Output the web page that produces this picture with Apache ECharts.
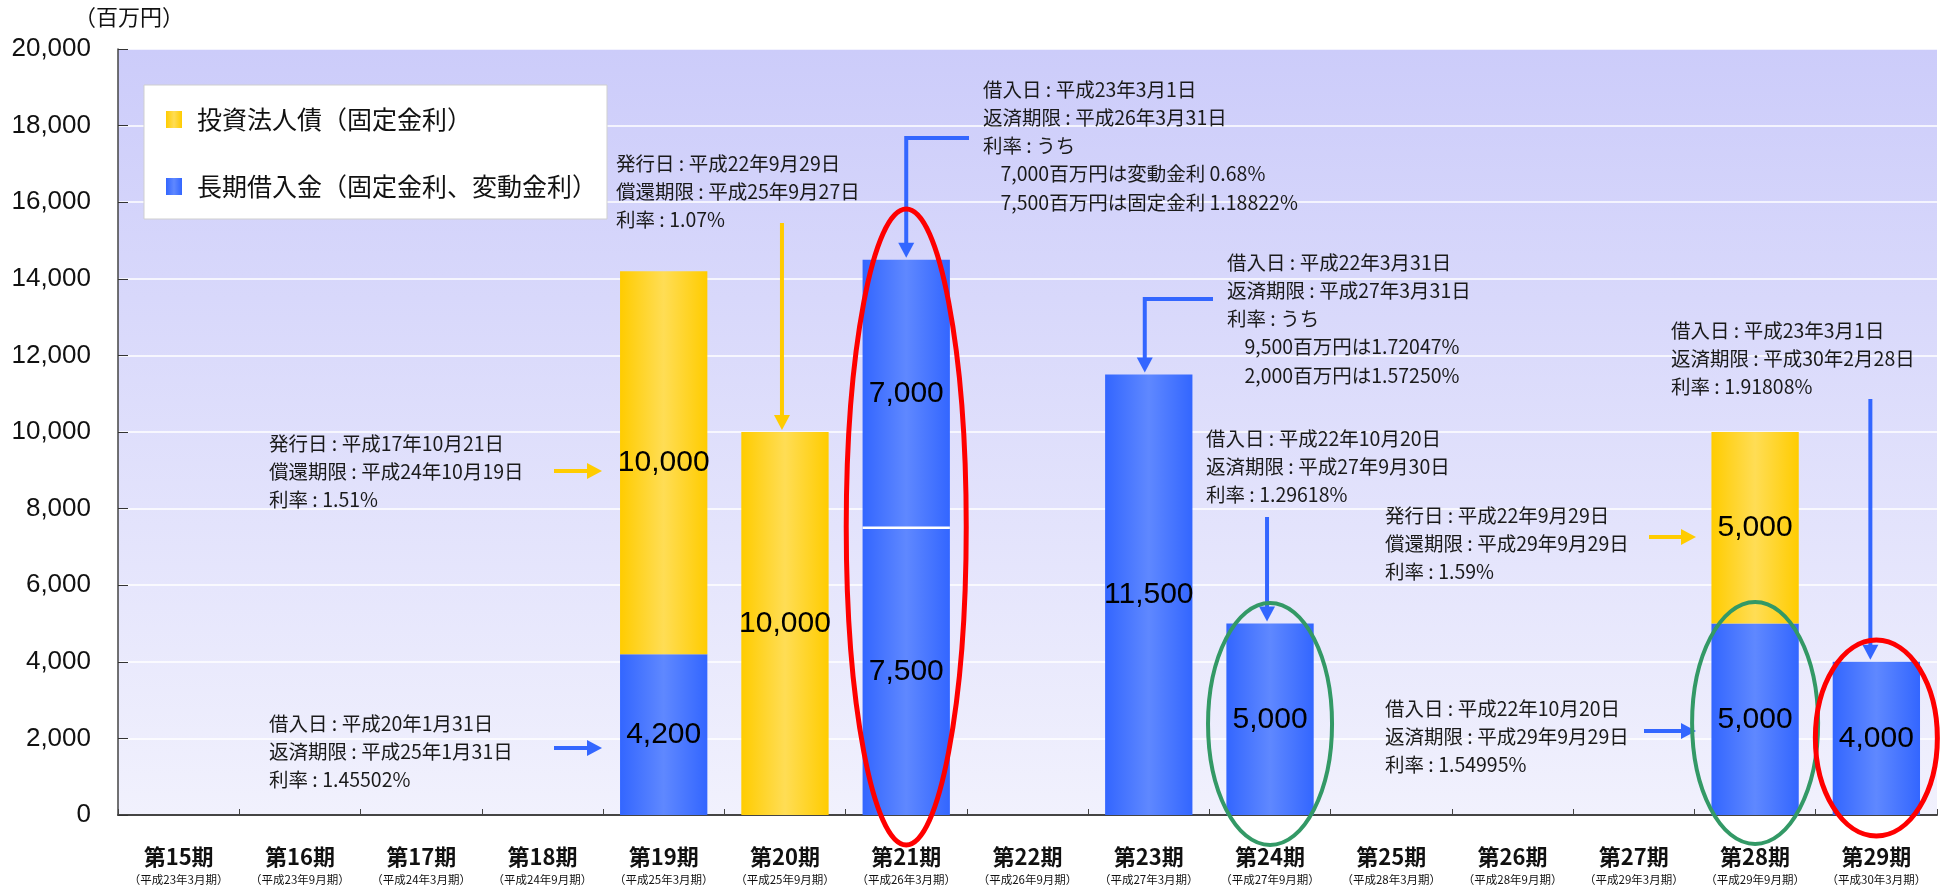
<!DOCTYPE html>
<html>
<head>
<meta charset="utf-8">
<script src="https://cdn.jsdelivr.net/npm/echarts@6/dist/echarts.min.js"></script>
<style>
  html, body { margin: 0; padding: 0; background: #ffffff; }
  #chart { width: 1944px; height: 894px; }
</style>
</head>
<body>
<div id="chart"></div>
<script>
// Fiscal periods and their closing months
const categories = ['第15期', '第16期', '第17期', '第18期', '第19期', '第20期', '第21期', '第22期',
  '第23期', '第24期', '第25期', '第26期', '第27期', '第28期', '第29期'];
const periods = ['平成23年3月期', '平成23年9月期', '平成24年3月期', '平成24年9月期', '平成25年3月期',
  '平成25年9月期', '平成26年3月期', '平成26年9月期', '平成27年3月期', '平成27年9月期',
  '平成28年3月期', '平成28年9月期', '平成29年3月期', '平成29年9月期', '平成30年3月期'];

// Maturing amounts (百万円)
const loanValues = [null, null, null, null, 4200, null, 7500, null, 11500, 5000, null, null, null, 5000, 4000];
const loanUpperValues = [null, null, null, null, null, null, 7000, null, null, null, null, null, null, null, null];
const bondValues = [null, null, null, null, 10000, 10000, null, null, null, null, null, null, null, 5000, null];

// Value axis
const yMin = 0;
const yMax = 20000;
const yStep = 2000;

const legendNames = ['投資法人債（固定金利）', '長期借入金（固定金利、変動金利）'];
const unitLabel = '（百万円）';

// Loan / bond term notes
const notes = [
  { x: 269, y: 430, lines: ['発行日 : 平成17年10月21日', '償還期限 : 平成24年10月19日', '利率 : 1.51%'] },
  { x: 269, y: 710, lines: ['借入日 : 平成20年1月31日', '返済期限 : 平成25年1月31日', '利率 : 1.45502%'] },
  { x: 616, y: 150, lines: ['発行日 : 平成22年9月29日', '償還期限 : 平成25年9月27日', '利率 : 1.07%'] },
  { x: 983, y: 76, lines: ['借入日 : 平成23年3月1日', '返済期限 : 平成26年3月31日', '利率 : うち',
      '    7,000百万円は変動金利 0.68%', '    7,500百万円は固定金利 1.18822%'] },
  { x: 1227, y: 249, lines: ['借入日 : 平成22年3月31日', '返済期限 : 平成27年3月31日', '利率 : うち',
      '    9,500百万円は1.72047%', '    2,000百万円は1.57250%'] },
  { x: 1206, y: 425, lines: ['借入日 : 平成22年10月20日', '返済期限 : 平成27年9月30日', '利率 : 1.29618%'] },
  { x: 1671, y: 317, lines: ['借入日 : 平成23年3月1日', '返済期限 : 平成30年2月28日', '利率 : 1.91808%'] },
  { x: 1385, y: 502, lines: ['発行日 : 平成22年9月29日', '償還期限 : 平成29年9月29日', '利率 : 1.59%'] },
  { x: 1385, y: 695, lines: ['借入日 : 平成22年10月20日', '返済期限 : 平成29年9月29日', '利率 : 1.54995%'] }
];

const YELLOW = '#FFCC00';
const BLUE = '#3366FF';
const CJK = '"Noto Sans CJK JP", "Noto Sans", sans-serif';
const NUM = '"Liberation Sans", Arial, sans-serif';

function barGradient(edge, mid) {
  return new echarts.graphic.LinearGradient(0, 0, 1, 0, [
    { offset: 0, color: edge },
    { offset: 0.5, color: mid },
    { offset: 1, color: edge }
  ]);
}

const fmt = v => Number(v).toLocaleString('en-US');

const chart = echarts.init(document.getElementById('chart'), null, { renderer: 'canvas' });

const valueLabel = {
  show: true,
  position: 'inside',
  color: '#000',
  fontFamily: NUM,
  fontSize: 30,
  formatter: p => fmt(p.value)
};

chart.setOption({
  animation: false,
  backgroundColor: '#ffffff',
  grid: {
    left: 118, right: 7, top: 49, bottom: 79,
    outerBoundsMode: 'none',
    containLabel: false,
    show: true,
    borderWidth: 0,
    backgroundColor: new echarts.graphic.LinearGradient(0, 0, 0, 1, [
      { offset: 0, color: '#CCCCFA' },
      { offset: 1, color: '#F1F1FD' }
    ])
  },
  legend: {
    data: legendNames,
    orient: 'vertical',
    left: 144,
    top: 85,
    padding: [22, 10, 20, 22],
    itemGap: 42,
    itemWidth: 16,
    itemHeight: 17,
    icon: 'rect',
    backgroundColor: '#ffffff',
    borderColor: '#cfcfcf',
    borderWidth: 1,
    textStyle: { fontFamily: CJK, fontSize: 25, color: '#111', padding: [0, 0, 0, 10] }
  },
  xAxis: {
    type: 'category',
    data: categories,
    axisLine: { lineStyle: { color: '#444', width: 2 } },
    axisTick: { show: true, inside: true, length: 6, lineStyle: { color: '#444' } },
    axisLabel: {
      margin: 28,
      interval: 0,
      formatter: (v, i) => '{a|' + v + '}\n{b|（' + periods[i] + '）}',
      rich: {
        a: { fontFamily: CJK, fontSize: 22, fontWeight: 'bold', color: '#111', lineHeight: 28 },
        b: { fontFamily: CJK, fontSize: 11.5, color: '#111', lineHeight: 18 }
      }
    }
  },
  yAxis: {
    type: 'value',
    min: yMin,
    max: yMax,
    interval: yStep,
    axisLine: { show: true, lineStyle: { color: '#444', width: 1.5 } },
    axisTick: { show: true, inside: true, length: 10, lineStyle: { color: '#333' } },
    splitLine: { lineStyle: { color: '#ffffff', width: 1.5 } },
    axisLabel: {
      margin: 27,
      fontFamily: NUM,
      fontSize: 26,
      color: '#111',
      formatter: v => fmt(v)
    }
  },
  series: [
    {
      name: legendNames[1],
      type: 'bar',
      stack: 'total',
      barWidth: '72%',
      data: loanValues,
      itemStyle: { color: barGradient(BLUE, '#5F88FF') },
      label: valueLabel,
      z: 2
    },
    {
      name: '長期借入金（上段）',
      type: 'bar',
      stack: 'total',
      barWidth: '72%',
      data: loanUpperValues,
      itemStyle: { color: barGradient(BLUE, '#5F88FF') },
      label: valueLabel,
      z: 2
    },
    {
      name: legendNames[0],
      type: 'bar',
      stack: 'total',
      barWidth: '72%',
      data: bondValues,
      itemStyle: { color: barGradient(YELLOW, '#FFDD55') },
      label: valueLabel,
      z: 2
    }
  ]
});

// Annotation layer: notes, arrows, highlight ellipses
function px(i, v) { return chart.convertToPixel({ gridIndex: 0 }, [i, v]); }
function stackTop(i) {
  return (loanValues[i] || 0) + (loanUpperValues[i] || 0) + (bondValues[i] || 0);
}

const catWidth = px(1, 0)[0] - px(0, 0)[0];
const barHalf = catWidth * 0.72 / 2;

function arrowHead(tip, dir, color) {
  const L = 15, W = 8;
  const [tx, ty] = tip;
  let pts;
  if (dir === 'down') pts = [[tx, ty], [tx - W, ty - L], [tx + W, ty - L]];
  else pts = [[tx, ty], [tx - L, ty - W], [tx - L, ty + W]];
  return { type: 'polygon', shape: { points: pts }, style: { fill: color }, z: 20 };
}

function arrow(points, dir, color) {
  const shaft = points.slice();
  const tip = shaft[shaft.length - 1];
  const last = shaft.length - 1;
  shaft[last] = dir === 'down' ? [tip[0], tip[1] - 12] : [tip[0] - 12, tip[1]];
  return [
    { type: 'polyline', shape: { points: shaft }, style: { stroke: color, lineWidth: 4, fill: null }, z: 19 },
    arrowHead(tip, dir, color)
  ];
}

const g = [];

g.push({
  type: 'text', left: 74, top: 6, z: 10,
  style: { text: unitLabel, font: '22px ' + CJK, fill: '#111' }
});

notes.forEach(n => {
  g.push({
    type: 'text', x: n.x, y: n.y - 1, z: 10,
    style: { text: n.lines.join('\n'), font: '19.5px ' + CJK, fill: '#1a1a1a', lineHeight: 28.3 }
  });
});

// divider between the two loan tranches of 第21期
const d = px(6, loanValues[6]);
g.push({
  type: 'line', z: 15,
  shape: { x1: d[0] - barHalf, y1: d[1], x2: d[0] + barHalf, y2: d[1] },
  style: { stroke: '#ffffff', lineWidth: 2.5 }
});

const cx = i => px(i, 0)[0];
const topY = i => px(i, stackTop(i))[1] - 2;

g.push(...arrow([[554, 471], [602, 471]], 'right', YELLOW));
g.push(...arrow([[554, 748], [602, 748]], 'right', BLUE));
g.push(...arrow([[cx(5) - 3, 223], [cx(5) - 3, topY(5)]], 'down', YELLOW));
g.push(...arrow([[969, 138], [cx(6), 138], [cx(6), topY(6)]], 'down', BLUE));
g.push(...arrow([[1213, 299], [cx(8) - 4, 299], [cx(8) - 4, topY(8)]], 'down', BLUE));
g.push(...arrow([[cx(9) - 3, 517], [cx(9) - 3, topY(9)]], 'down', BLUE));
g.push(...arrow([[cx(14) - 6, 399], [cx(14) - 6, topY(14)]], 'down', BLUE));
g.push(...arrow([[1649, 537], [1696, 537]], 'right', YELLOW));
g.push(...arrow([[1644, 731], [1696, 731]], 'right', BLUE));

const ellipses = [
  { i: 6, cy: 527, rx: 60, ry: 318, color: '#FF0000', w: 5 },
  { i: 9, cy: 724, rx: 62, ry: 121, color: '#339966', w: 4 },
  { i: 13, cy: 723, rx: 63, ry: 121, color: '#339966', w: 4 },
  { i: 14, cy: 738, rx: 61, ry: 98, color: '#FF0000', w: 5 }
];
ellipses.forEach(e => {
  g.push({
    type: 'ellipse', z: 25,
    shape: { cx: cx(e.i), cy: e.cy, rx: e.rx, ry: e.ry },
    style: { stroke: e.color, lineWidth: e.w, fill: null }
  });
});

chart.setOption({ graphic: g });
</script>
</body>
</html>
